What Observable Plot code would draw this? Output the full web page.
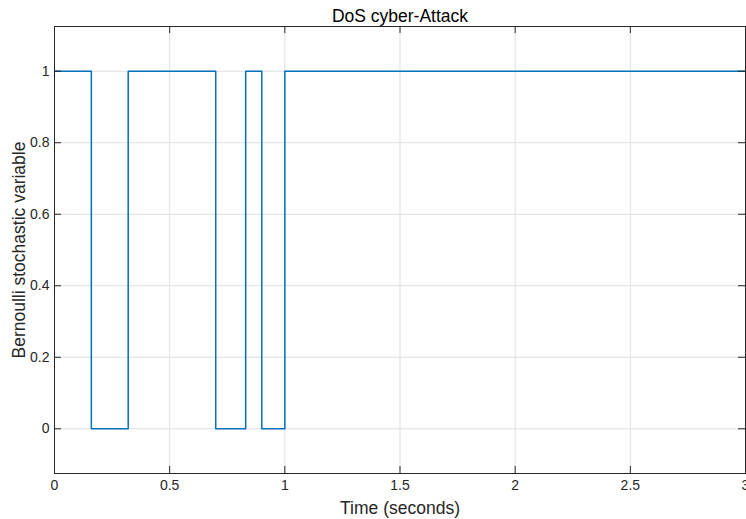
<!DOCTYPE html>
<html>
<head>
<meta charset="utf-8">
<script src="https://cdn.jsdelivr.net/npm/d3@7"></script>
<script src="https://cdn.jsdelivr.net/npm/@observablehq/plot@0.6"></script>
<style>
  html, body { margin: 0; padding: 0; background: #fff; }
  #chart svg { display: block; }
</style>
</head>
<body>
<div id="chart"></div>
<script>
// Data (step signal)
const times  = [0, 0.16, 0.32, 0.70, 0.83, 0.90, 1.00, 3.0];
const values = [1, 0,    1,    0,    1,    0,    1,    1];
const xTicks = [0, 0.5, 1, 1.5, 2, 2.5, 3];
const yTicks = [0, 0.2, 0.4, 0.6, 0.8, 1];
const title = "DoS cyber-Attack";
const xLabel = "Time (seconds)";
const yLabel = "Bernoulli stochastic variable";

const data = times.map((t, i) => ({t, v: values[i]}));

const W = 746, H = 519;
const mL = 54, mR = 1, mT = 26, mB = 46;
const fw = W - mL - mR, fh = H - mT - mB;
const tick = 7;
const font = "'Liberation Sans', Arial, Helvetica, sans-serif";
const axisColor = "#262626";

const chart = Plot.plot({
  width: W,
  height: H,
  marginLeft: mL,
  marginRight: mR,
  marginTop: mT,
  marginBottom: mB,
  style: {fontFamily: font, background: "#fff", overflow: "visible"},
  x: {domain: [0, 3]},
  y: {domain: [-0.125, 1.125]},
  marks: [
    Plot.gridX(xTicks, {stroke: "#dfdfdf", strokeOpacity: 1, strokeWidth: 1}),
    Plot.gridY(yTicks, {stroke: "#dfdfdf", strokeOpacity: 1, strokeWidth: 1}),
    Plot.line(data, {x: "t", y: "v", curve: "step-after", stroke: "#0072BD", strokeWidth: 1.5}),
    // inward ticks (bottom, top, left, right)
    Plot.ruleX(xTicks, {insetTop: fh - tick, stroke: axisColor, strokeWidth: 1}),
    Plot.ruleX(xTicks, {insetBottom: fh - tick, stroke: axisColor, strokeWidth: 1}),
    Plot.ruleY(yTicks, {insetRight: fw - tick, stroke: axisColor, strokeWidth: 1}),
    Plot.ruleY(yTicks, {insetLeft: fw - tick, stroke: axisColor, strokeWidth: 1}),
    Plot.frame({stroke: axisColor, strokeWidth: 1}),
    Plot.axisX(xTicks, {tickSize: 0, tickPadding: 7, fontSize: 14, fill: "#262626", label: null, tickFormat: d => String(d)}),
    Plot.axisY(yTicks, {tickSize: 0, tickPadding: 5, fontSize: 14, fill: "#262626", label: null, tickFormat: d => String(d)}),
    Plot.text([title], {frameAnchor: "top", lineAnchor: "middle", textAnchor: "middle", dy: -10, fontSize: 17.5, fill: "#000"}),
    Plot.text([xLabel], {frameAnchor: "bottom", lineAnchor: "middle", textAnchor: "middle", dy: 35, fontSize: 17.5, fill: "#262626"}),
    Plot.text([yLabel], {frameAnchor: "left", lineAnchor: "middle", textAnchor: "middle", dx: -35, rotate: -90, fontSize: 17.5, fill: "#262626"})
  ]
});
document.getElementById("chart").appendChild(chart);
</script>
</body>
</html>
